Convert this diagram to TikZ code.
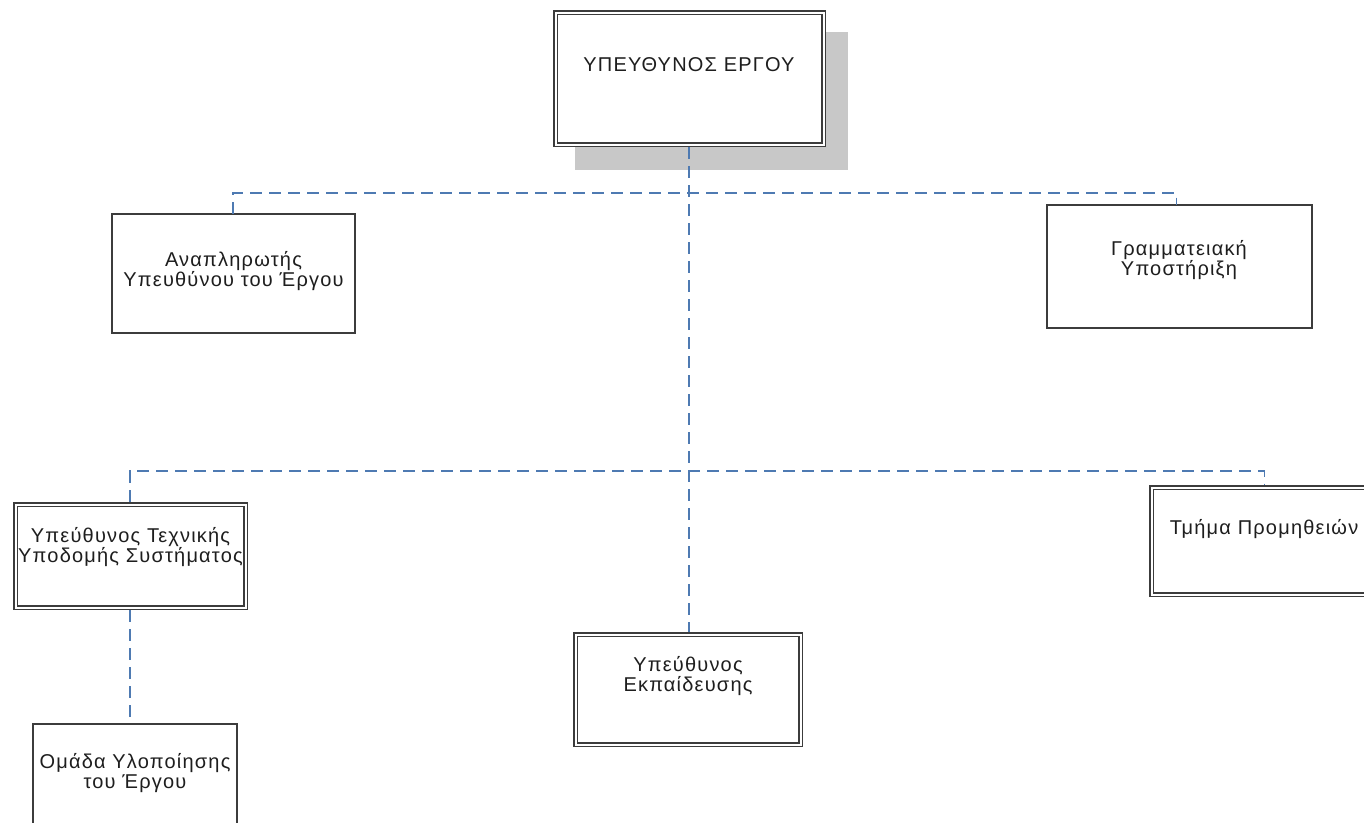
\documentclass[tikz,border=0pt]{standalone}
\usepackage{fontspec}
\newfontfamily\lblfont[LetterSpace=6]{Liberation Sans}
\definecolor{edge}{RGB}{60,60,60}
\definecolor{link}{RGB}{78,122,178}
\definecolor{shadowgray}{RGB}{200,200,200}
\definecolor{ink}{RGB}{30,30,30}
\begin{document}
\begin{tikzpicture}[x=1pt,y=-1pt,
  sbox/.style={draw=edge,line width=1.5pt,fill=white},
  dbox/.style={draw=edge,line width=1.5pt,double=white,double distance=2pt,fill=white},
  lbl/.style={font=\lblfont\fontsize{20}{20}\selectfont,text=ink,align=center,inner sep=0pt},
  conn/.style={draw=link,line width=1.4pt,dash pattern=on 12pt off 7pt}]
\useasboundingbox (0,0) rectangle (1364,822);
\fill[white] (0,0) rectangle (1364,822);
% shadow of top box
\fill[shadowgray] (575,32) rectangle (848,170);
% boxes
\draw[dbox] (555.5,12.5) rectangle (823.5,144.5);
\path (553,10) rectangle (826,147) node[midway,inner sep=0pt,minimum width=273pt,minimum height=137pt] (top) {};
\draw[sbox] (112,214) rectangle (355,333);
\path (112,214) rectangle (355,333) node[midway,inner sep=0pt,minimum width=243pt,minimum height=119pt] (dep) {};
\draw[sbox] (1047,205) rectangle (1312,328);
\path (1047,205) rectangle (1312,328) node[midway,inner sep=0pt,minimum width=265pt,minimum height=123pt] (sec) {};
\draw[dbox] (15.5,504.5) rectangle (245.5,607.5);
\path (13,502) rectangle (248,610) node[midway,inner sep=0pt,minimum width=235pt,minimum height=108pt] (tech) {};
\draw[dbox] (1151.5,487.5) rectangle (1377.5,594.5);
\path (1149,485) rectangle (1380,597) node[midway,inner sep=0pt,minimum width=231pt,minimum height=112pt] (proc) {};
\draw[dbox] (575.5,634.5) rectangle (800.5,744.5);
\path (573,632) rectangle (803,747) node[midway,inner sep=0pt,minimum width=230pt,minimum height=115pt] (edu) {};
\draw[sbox] (33,724) rectangle (237,870);
\path (33,724) rectangle (237,870) node[midway,inner sep=0pt,minimum width=204pt,minimum height=146pt] (team) {};
% labels
\node[lbl] (topT) at (689,65) {ΥΠΕΥΘΥΝΟΣ ΕΡΓΟΥ};
\node[lbl] (depT) at (233.5,271) {Αναπληρωτής\\Υπευθύνου του Έργου};
\node[lbl] (secT) at (1179,260.5) {Γραμματειακή\\Υποστήριξη};
\node[lbl] (techT) at (130.5,547.5) {Υπεύθυνος Τεχνικής\\Υποδομής Συστήματος};
\node[lbl] (procT) at (1264,529) {Τμήμα Προμηθειών};
\node[lbl] (eduT) at (688,676) {Υπεύθυνος\\Εκπαίδευσης};
\node[lbl] (teamT) at (135,773.5) {Ομάδα Υλοποίησης\\του Έργου};
% junctions
\coordinate (j1) at (689,193);
\coordinate (j2) at (689,471);
% connectors
\draw[conn] (top.south -| j1) -- (edu.north -| j1);
\draw[conn] ([xshift=-0.5pt]dep.north) |- (j1) -| ([xshift=-1.5pt]sec.north -| 1178,0);
\draw[conn] ([xshift=-0.5pt]tech.north) |- (j2) -| (proc.north);
\draw[conn] ([xshift=-0.5pt]tech.south) -- ([xshift=-5pt]team.north);
\end{tikzpicture}
\end{document}
